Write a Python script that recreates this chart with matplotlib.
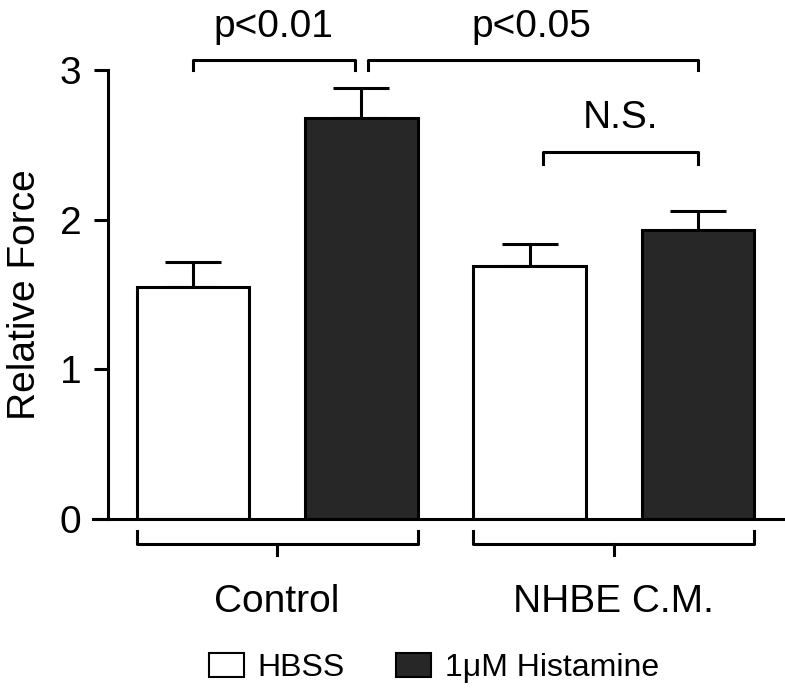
import numpy as np
import matplotlib
matplotlib.use("Agg")
import matplotlib.pyplot as plt
from matplotlib.patches import Patch

plt.rcParams['font.family'] = ['Liberation Sans', 'DejaVu Sans']

# data
groups = ['Control', 'NHBE C.M.']
series = ['HBSS', '1\u03bcM Histamine']
hbss_mean = [1.55, 1.69]
hbss_err = [0.17, 0.15]
hist_mean = [2.68, 1.93]
hist_err = [0.20, 0.13]
yticks = [0, 1, 2, 3]

fs = 28
lw = 2.2

fig = plt.figure(figsize=(7.85, 6.9), dpi=100)
ax = fig.add_axes([108/785, 1 - 519/690, 1 - 108/785, 449/690])

x = np.arange(len(groups)) * 2.0
xh = x
xs = x + 1
w = 0.67
ax.bar(xh, hbss_mean, w, color='white', edgecolor='black', linewidth=lw, zorder=3)
ax.bar(xs, hist_mean, w, color='#272727', edgecolor='black', linewidth=lw, zorder=3)
ax.errorbar(xh, hbss_mean, yerr=[np.zeros(2), hbss_err], fmt='none', ecolor='black',
            elinewidth=lw, capsize=20, capthick=lw, zorder=2)
ax.errorbar(xs, hist_mean, yerr=[np.zeros(2), hist_err], fmt='none', ecolor='black',
            elinewidth=lw, capsize=20, capthick=lw, zorder=2)

ax.set_xlim(-0.505, 3.517)
ax.set_ylim(0, 3)
ax.set_yticks(yticks)
ax.tick_params(axis='y', labelsize=fs, length=10, width=lw, pad=9)
ax.set_xticks([])
for s in ['top', 'right', 'bottom']:
    ax.spines[s].set_visible(False)
ax.spines['left'].set_linewidth(lw)
ax.set_ylabel('Relative Force', fontsize=fs, labelpad=12)

# x axis line, extends a bit left of the y axis
ax.plot([-0.022, 1.0], [0, 0], color='black', lw=lw, transform=ax.get_yaxis_transform(),
        clip_on=False, zorder=4)

# group brackets under the axis
for i, g in enumerate(groups):
    l, r = xh[i] - w / 2, xs[i] + w / 2
    ax.plot([l, l, r, r], [-0.08, -0.167, -0.167, -0.08], color='black', lw=lw, clip_on=False)
    c = (l + r) / 2
    ax.plot([c, c], [-0.167, -0.24], color='black', lw=lw, clip_on=False)
    ax.text(c, -0.553, g, ha='center', va='center', fontsize=fs)

# significance brackets
def bracket(x0, x1, ylo, yhi, label, tx, ty):
    ax.plot([x0, x0, x1, x1], [ylo, yhi, yhi, ylo], color='black', lw=lw, clip_on=False)
    ax.text(tx, ty, label, ha='center', va='baseline', fontsize=fs)

bracket(xh[0], xs[0] - 0.04, 3.0, 3.07, 'p<0.01', 0.48, 3.22)
bracket(xs[0] + 0.04, xs[1], 3.0, 3.07, 'p<0.05', 2.01, 3.22)
bracket(xh[1] + 0.08, xs[1], 2.373, 2.453, 'N.S.', 2.54, 2.61)

handles = [Patch(facecolor='white', edgecolor='black', linewidth=1.5),
           Patch(facecolor='#272727', edgecolor='black', linewidth=1.5)]
fig.legend(handles, series, loc='center', bbox_to_anchor=(0.553, 0.032), ncol=2,
           frameon=False, fontsize=23, handlelength=1.1, handleheight=0.78,
           handletextpad=0.44, columnspacing=1.6, borderpad=0)

fig.savefig('out.png', dpi=100)
